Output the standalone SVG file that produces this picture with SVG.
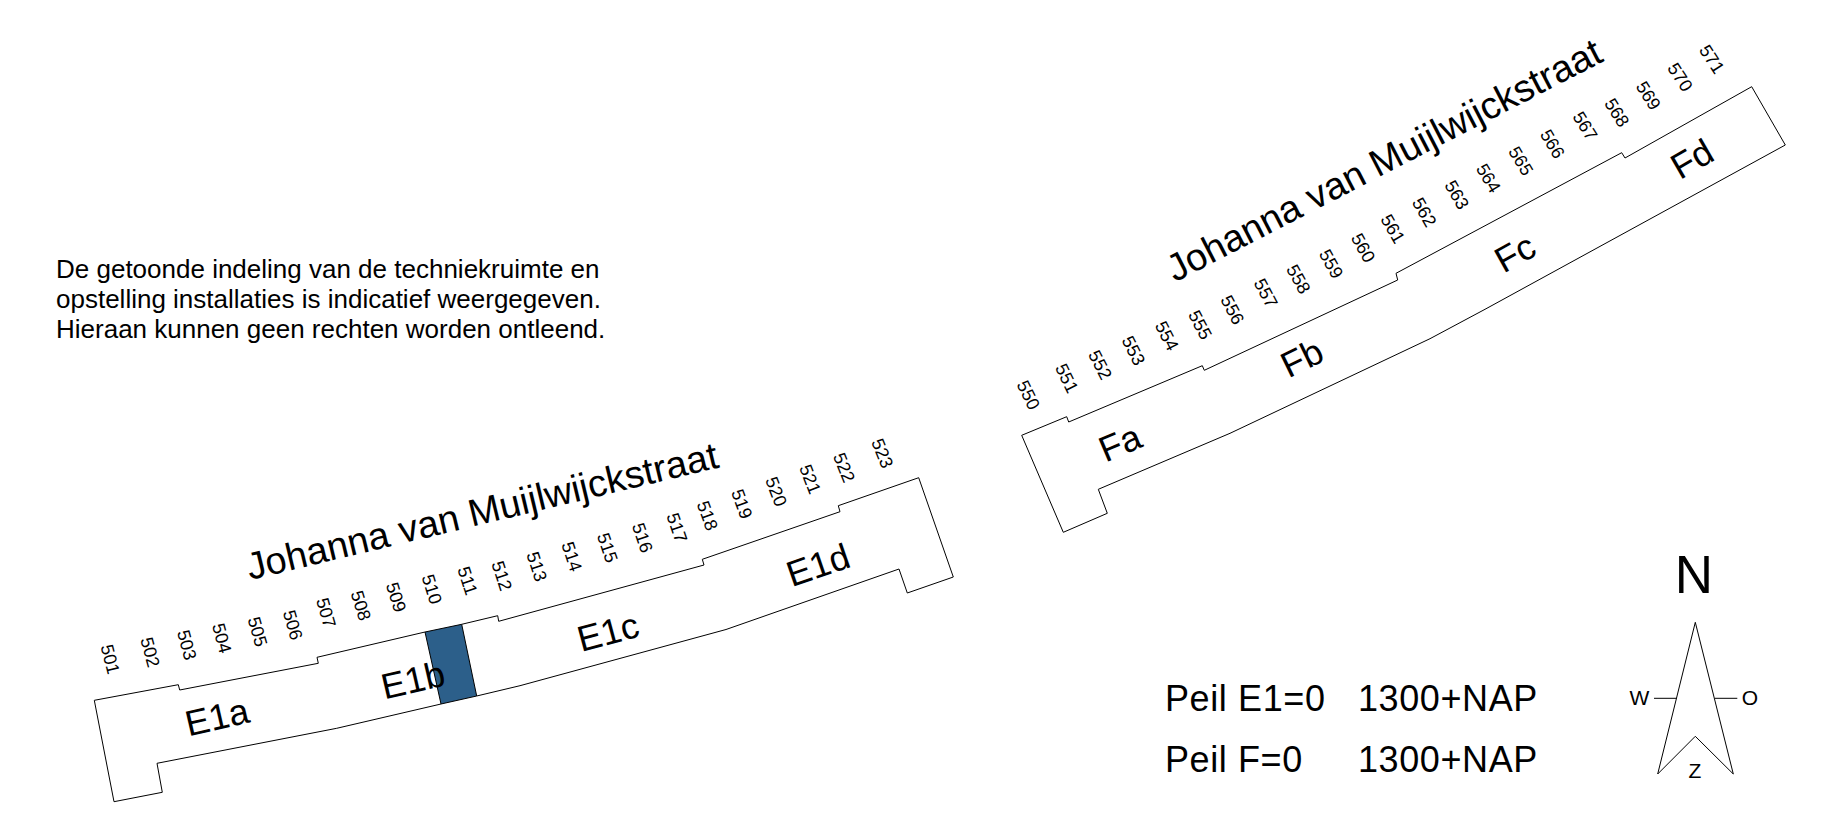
<svg xmlns="http://www.w3.org/2000/svg" width="1842" height="827" viewBox="0 0 1842 827">
<style>
text{font-family:"Liberation Sans",Arial,sans-serif;fill:#000}
.c{text-anchor:middle;dominant-baseline:central}
.n{font-size:18px}
.a{font-size:36px}
.s{font-size:38px}
.i{font-size:26px}
.p{font-size:36px;letter-spacing:.6px}
.l{font-size:21px}
.o{fill:none;stroke:#000;stroke-width:1;stroke-linejoin:miter}
</style>
<rect width="1842" height="827" fill="#fff"/>
<g id="note"><text class="i" x="56" y="278">De getoonde indeling van de techniekruimte en</text><text class="i" x="56" y="308">opstelling installaties is indicatief weergegeven.</text><text class="i" x="56" y="338">Hieraan kunnen geen rechten worden ontleend.</text></g>
<g id="block-E">
<polygon fill="#2c5f8a" points="425,632 461.7,624.3 476.7,696 441,704"/>
<path class="o" d="M94.3,700.3L178.3,684.7L179.7,690L318.3,663.3L317,657.3L425,632L461.7,624.3L497.7,615.7L498.7,621.3L704,565L702.3,559.3L840,511.7L838.3,505.7L918.7,477.7L953.3,577L907.3,593L899,569L726,629.5L520,685.7L476.7,696L441,704L336.7,728.3L157,763.3L162.3,792.3L114,801.7Z"/>
<line class="o" x1="425" y1="632" x2="441" y2="704"/><line class="o" x1="461.7" y1="624.3" x2="476.7" y2="696"/>
<text class="s c" transform="translate(482,511) rotate(-13.5)">Johanna van Muijlwijckstraat</text>
<text class="a c" transform="translate(217,717) rotate(-13)">E1a</text>
<text class="a c" transform="translate(413,680) rotate(-13)">E1b</text>
<text class="a c" transform="translate(608,632) rotate(-15)">E1c</text>
<text class="a c" transform="translate(818,565) rotate(-19)">E1d</text>
<g class="n">
<text class="c" transform="translate(110,659.3) rotate(76)">501</text>
<text class="c" transform="translate(150,652.3) rotate(75)">502</text>
<text class="c" transform="translate(186.7,645) rotate(75)">503</text>
<text class="c" transform="translate(221.7,638.3) rotate(75)">504</text>
<text class="c" transform="translate(257.3,631.7) rotate(74)">505</text>
<text class="c" transform="translate(292.7,625) rotate(74)">506</text>
<text class="c" transform="translate(326,612.7) rotate(74)">507</text>
<text class="c" transform="translate(360.7,605.7) rotate(73)">508</text>
<text class="c" transform="translate(396,597.3) rotate(73)">509</text>
<text class="c" transform="translate(431.7,589.3) rotate(73)">510</text>
<text class="c" transform="translate(467.3,580.7) rotate(72)">511</text>
<text class="c" transform="translate(501.7,576) rotate(72)">512</text>
<text class="c" transform="translate(536.7,566.7) rotate(72)">513</text>
<text class="c" transform="translate(571.7,556.7) rotate(72)">514</text>
<text class="c" transform="translate(607.3,547.7) rotate(71)">515</text>
<text class="c" transform="translate(642.3,537.7) rotate(71)">516</text>
<text class="c" transform="translate(676.7,527.7) rotate(71)">517</text>
<text class="c" transform="translate(707.3,515.7) rotate(70)">518</text>
<text class="c" transform="translate(741.7,504) rotate(70)">519</text>
<text class="c" transform="translate(776,491.7) rotate(69)">520</text>
<text class="c" transform="translate(810,479.3) rotate(69)">521</text>
<text class="c" transform="translate(844,467.7) rotate(68)">522</text>
<text class="c" transform="translate(882.3,453.3) rotate(68)">523</text>
</g>
</g>
<g id="block-F">
<path class="o" d="M1021.7,435.3L1066.7,416.7L1068.7,422L1202.3,365.7L1204.3,370.3L1397.7,280L1396,273.3L1621.7,152.7L1625,158L1751.7,86.7L1785.3,145L1485,309.3L1430,338.7L1230,433.3L1098.3,489.3L1107.3,513.3L1063.3,532.3Z"/>
<text class="s c" transform="translate(1384,160) rotate(-27.3)">Johanna van Muijlwijckstraat</text>
<text class="a c" transform="translate(1120,443) rotate(-23)">Fa</text>
<text class="a c" transform="translate(1302,358) rotate(-26)">Fb</text>
<text class="a c" transform="translate(1515,253) rotate(-29)">Fc</text>
<text class="a c" transform="translate(1692,159) rotate(-30)">Fd</text>
<g class="n">
<text class="c" transform="translate(1028.3,395) rotate(64)">550</text>
<text class="c" transform="translate(1066.7,378.3) rotate(64)">551</text>
<text class="c" transform="translate(1100,365) rotate(63)">552</text>
<text class="c" transform="translate(1133.3,350.7) rotate(63)">553</text>
<text class="c" transform="translate(1166.7,336) rotate(63)">554</text>
<text class="c" transform="translate(1200,325) rotate(62)">555</text>
<text class="c" transform="translate(1232.3,310) rotate(62)">556</text>
<text class="c" transform="translate(1265.7,293.3) rotate(62)">557</text>
<text class="c" transform="translate(1298.3,279.3) rotate(61)">558</text>
<text class="c" transform="translate(1331,264) rotate(61)">559</text>
<text class="c" transform="translate(1363,248) rotate(61)">560</text>
<text class="c" transform="translate(1392.7,229) rotate(60)">561</text>
<text class="c" transform="translate(1424.3,212.3) rotate(60)">562</text>
<text class="c" transform="translate(1456.7,195) rotate(60)">563</text>
<text class="c" transform="translate(1488.3,178.3) rotate(59)">564</text>
<text class="c" transform="translate(1520.7,161) rotate(59)">565</text>
<text class="c" transform="translate(1552.3,144) rotate(59)">566</text>
<text class="c" transform="translate(1585,126) rotate(58)">567</text>
<text class="c" transform="translate(1616.7,112.7) rotate(58)">568</text>
<text class="c" transform="translate(1648.3,95.7) rotate(58)">569</text>
<text class="c" transform="translate(1680,77.3) rotate(57)">570</text>
<text class="c" transform="translate(1711.7,59.3) rotate(57)">571</text>
</g>
</g>
<g id="peil">
<text class="p" x="1165" y="711">Peil E1=0</text><text class="p" x="1358" y="711">1300+NAP</text>
<text class="p" x="1165" y="772">Peil F=0</text><text class="p" x="1358" y="772">1300+NAP</text>
</g>
<g id="compass">
<text class="c" x="1694" y="574" font-size="53">N</text>
<path class="o" d="M1695.3,622.3L1733.3,774L1695.3,736.3L1657.7,774Z"/>
<path class="o" d="M1654,698.3H1676.7M1715,698.3H1737.3"/>
<text class="c l" x="1639.3" y="697">W</text>
<text class="c l" x="1750" y="697">O</text>
<text class="c l" x="1695" y="770">Z</text>
</g>
</svg>
